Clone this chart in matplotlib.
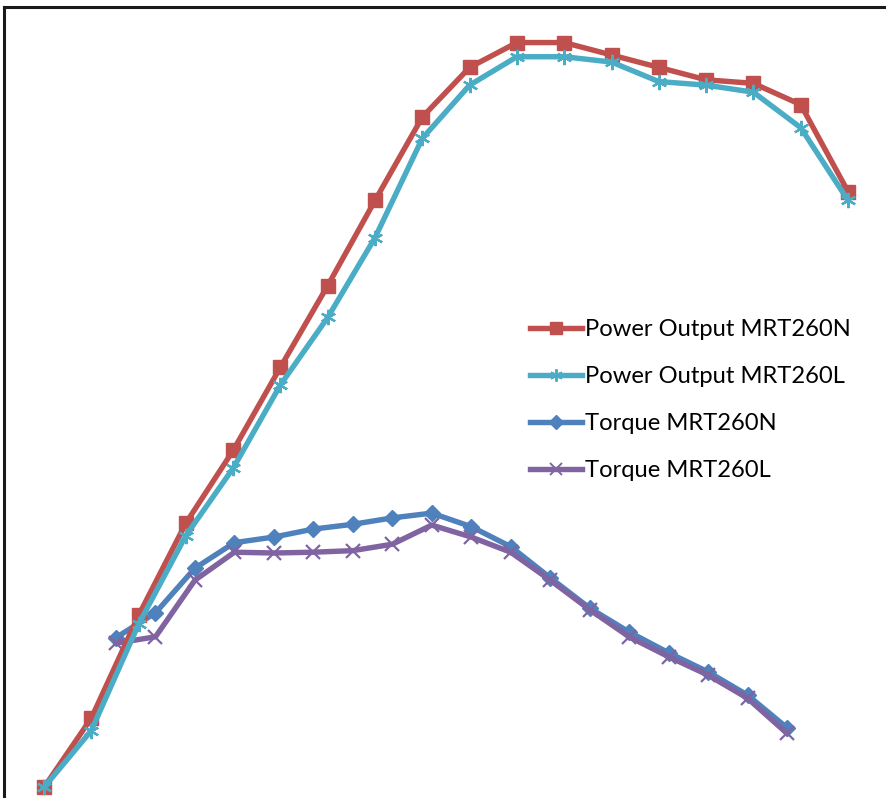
import numpy as np
import matplotlib
matplotlib.use("Agg")
import matplotlib.pyplot as plt
from matplotlib.lines import Line2D

# power output (kW) at 18 speed steps
power_n = [0.6, 4.5, 10.3, 15.5, 19.6, 24.3, 28.9, 33.7, 38.4, 41.2,
           42.6, 42.6, 41.9, 41.2, 40.5, 40.3, 39.1, 34.2]
power_l = [0.6, 3.8, 9.8, 14.8, 18.6, 23.3, 27.1, 31.6, 37.2, 40.2,
           41.8, 41.8, 41.5, 40.4, 40.2, 39.8, 37.8, 33.7]

# torque at 18 speed steps (secondary scale)
torque_n = [20.1, 23.2, 28.8, 32.0, 32.7, 33.7, 34.3, 35.1, 35.7, 34.0,
            31.5, 27.6, 23.8, 20.8, 18.2, 15.8, 12.9, 8.8]
torque_l = [19.4, 20.2, 27.3, 30.8, 30.7, 30.8, 31.0, 31.8, 34.2, 32.7,
            30.8, 27.3, 23.6, 20.2, 17.7, 15.4, 12.5, 8.1]

labels = ["Power Output MRT260N", "Power Output MRT260L",
          "Torque MRT260N", "Torque MRT260L"]

red = "#C0504D"
cyan = "#4BACC6"
blue = "#4F81BD"
purple = "#8064A2"

W, H = 886, 798
fig = plt.figure(figsize=(W / 100, H / 100), dpi=100)

# chart border (only top and left visible in the crop)
frame = fig.add_axes([4 / W, 0, (W - 4) / W, (H - 7) / H])
for side in ["right", "bottom"]:
    frame.spines[side].set_visible(False)
for side in ["left", "top"]:
    frame.spines[side].set_linewidth(2.2)
    frame.spines[side].set_color("#1a1a1a")
frame.set_xticks([])
frame.set_yticks([])
frame.patch.set_visible(False)

lw = 3.9
star = (6, 2, 0)

# torque axes
axt = fig.add_axes([0, 0, 1, 1])
axt.axis("off")
xt = np.arange(len(torque_n))
sp_t = (787 - 116) / 17
axt.set_xlim(-116 / sp_t, 17 + (W - 787) / sp_t)
axt.set_ylim(0, 100)
axt.plot(xt, torque_n, color=blue, lw=lw, marker="D", ms=8.5,
         mec=blue, mfc=blue, zorder=3)
axt.plot(xt, torque_l, color=purple, lw=lw, marker="x", ms=10,
         mew=1.6, mec=purple, zorder=4)

# power axes
axp = fig.add_axes([0, 0, 1, 1])
axp.axis("off")
axp.patch.set_visible(False)
xp = np.arange(len(power_n))
sp_p = (848 - 44) / 17
axp.set_xlim(-44 / sp_p, 17 + (W - 848) / sp_p)
axp.set_ylim(0, 45)
axp.plot(xp, power_n, color=red, lw=lw, marker="s", ms=10.5,
         mec=red, mfc=red, zorder=3)
axp.plot(xp, power_l, color=cyan, lw=lw, marker=star, ms=11,
         mew=1.6, mec=cyan, zorder=4)

handles = [
    Line2D([], [], color=red, lw=lw, marker="s", ms=8, mec=red, mfc=red),
    Line2D([], [], color=cyan, lw=lw, marker=star, ms=9, mew=1.4, mec=cyan),
    Line2D([], [], color=blue, lw=lw, marker="D", ms=7, mec=blue, mfc=blue),
    Line2D([], [], color=purple, lw=lw, marker="x", ms=8, mew=1.4, mec=purple),
]
fig.legend(handles, labels, loc="upper left",
           bbox_to_anchor=(530 / W, 1 - 319 / H),
           frameon=False, borderpad=0, borderaxespad=0,
           handlelength=2.2, handletextpad=0.12,
           labelspacing=1.1, prop={"family": "Lato", "size": 17.1})

fig.savefig("out.png", dpi=100)
